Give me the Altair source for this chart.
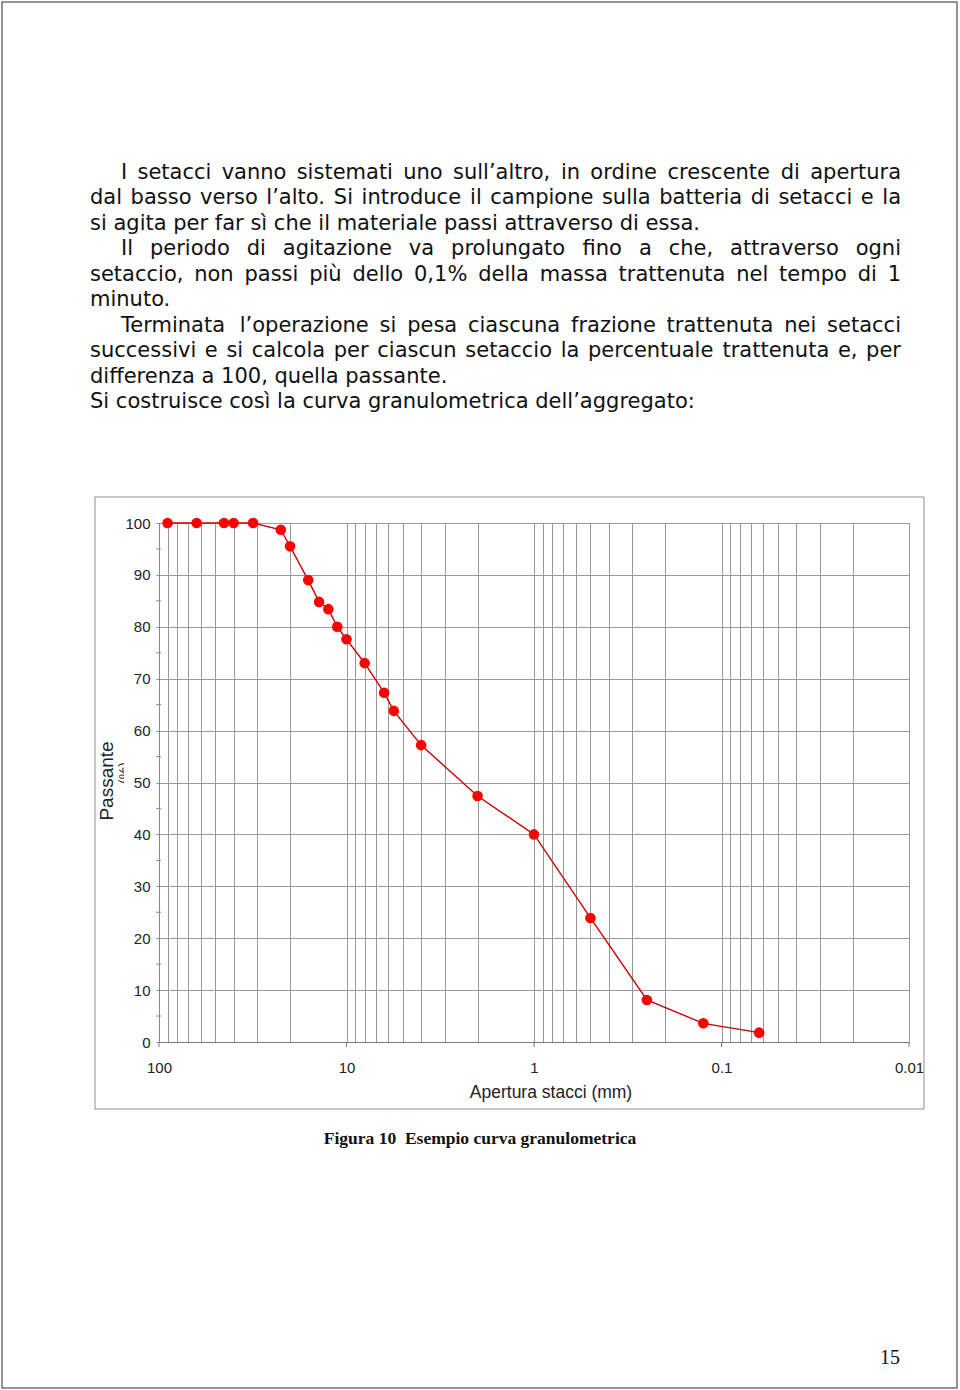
import altair as alt
import pandas as pd

# ---------------- data ----------------
sieve_mm = [90, 63, 45, 40, 31.5, 22.4, 20, 16, 14, 12.5, 11.2, 10, 8, 6.3, 5.6,
            4, 2, 1, 0.5, 0.25, 0.125, 0.063]
passing_pct = [100, 100, 100, 100, 100, 98.7, 95.5, 89.0, 84.8, 83.4, 80.0, 77.6,
               73.0, 67.3, 63.8, 57.2, 47.4, 40.0, 23.9, 8.1, 3.6, 1.8]

decades = [100, 10, 1, 0.1, 0.01]
minor_mult = [1, 2, 3, 4, 5, 6, 7, 8, 9]
y_major = [0, 10, 20, 30, 40, 50, 60, 70, 80, 90, 100]
y_minor = [5, 15, 25, 35, 45, 55, 65, 75, 85, 95]

x_title = "Apertura stacci (mm)"
y_title = "Passante"
y_unit = "(%)"
caption = "Figura 10\u00a0 Esempio curva granulometrica"
page_number = "15"

# (text, indented first line, justified)
paragraph_lines = [
    ("I setacci vanno sistemati uno sull’altro, in ordine crescente di apertura", True, True),
    ("dal basso verso l’alto. Si introduce il campione sulla batteria di setacci e la", False, True),
    ("si agita per far sì che il materiale passi attraverso di essa.", False, False),
    ("Il periodo di agitazione va prolungato fino a che, attraverso ogni", True, True),
    ("setaccio, non passi più dello 0,1% della massa trattenuta nel tempo di 1", False, True),
    ("minuto.", False, False),
    ("Terminata l’operazione si pesa ciascuna frazione trattenuta nei setacci", True, True),
    ("successivi e si calcola per ciascun setaccio la percentuale trattenuta e, per", False, True),
    ("differenza a 100, quella passante.", False, False),
    ("Si costruisce così la curva granulometrica dell’aggregato:", False, False),
]

# ---------------- layout ----------------
PAGE_W, PAGE_H = 960, 1390
PL, PT = 159, 523          # plot origin on the page
W, H = 750, 519            # plot area
TEXT_LEFT, TEXT_INDENT, TEXT_RIGHT = 90, 121, 901
TEXT_SIZE = 21
BASE0, LEAD = 178.8, 25.5

# DejaVu Sans advance widths (units per em = 2048)
DV = {' ': 651, ',': 651, '.': 651, ':': 690, '%': 1946, '’': 651,
      'I': 604, 'S': 1300, 'T': 1251,
      'a': 1255, 'b': 1300, 'c': 1126, 'd': 1300, 'e': 1260, 'f': 721, 'g': 1300,
      'h': 1298, 'i': 569, 'j': 569, 'k': 1186, 'l': 569, 'm': 1995, 'n': 1298,
      'o': 1253, 'p': 1300, 'q': 1300, 'r': 842, 's': 1067, 't': 803, 'u': 1298,
      'v': 1212, 'w': 1675, 'x': 1212, 'y': 1212, 'z': 1075,
      'ì': 569, 'ù': 1298, 'à': 1255, 'è': 1260}
for dch in '0123456789':
    DV[dch] = 1303


def tw(s):
    return sum(DV.get(ch, 1200) for ch in s) * TEXT_SIZE / 2048.0


rows = []
for i, (line, indent, justify) in enumerate(paragraph_lines):
    y = BASE0 + i * LEAD - PT
    left = TEXT_INDENT if indent else TEXT_LEFT
    if justify:
        words = line.split(' ')
        total = sum(tw(w) for w in words)
        gap = (TEXT_RIGHT - left - total) / (len(words) - 1)
        x = left
        for w in words:
            rows.append({'word': w, 'px': x - PL, 'py': y})
            x += tw(w) + gap
    else:
        rows.append({'word': line, 'px': left - PL, 'py': y})
words_df = pd.DataFrame(rows)

df = pd.DataFrame({'mm': sieve_mm, 'pass': passing_pct})
x_vals = [round(m * 10 ** k, 4) for k in [-2, -1, 0, 1] for m in minor_mult] + [100]
one = pd.DataFrame({'k': [0]})

LAB = "Liberation Sans, Arial, sans-serif"
GRID = '#999999'

xs = alt.Scale(type='log', domain=[0.01, 100], reverse=True)
ys = alt.Scale(domain=[0, 100])

x_axis = alt.Axis(values=x_vals, grid=True, gridColor=GRID, gridWidth=1,
                  ticks=False, labelOverlap=False, labelBound=False, labelFlush=False,
                  format='~g',
                  labelExpr="indexof([100, 10, 1, 0.1, 0.01], datum.value) >= 0 ? datum.label : ''",
                  labelFont=LAB, labelFontSize=15, labelColor='#222',
                  labelBaseline='middle', labelPadding=25,
                  domainColor='#777', domainWidth=1, title=None)
y_axis = alt.Axis(values=y_major, grid=True, gridColor=GRID, gridWidth=1,
                  tickSize=3, tickColor='#888', labelPadding=6,
                  labelFont=LAB, labelFontSize=15, labelColor='#222',
                  domainColor='#888', title=None)

page_border = alt.Chart(one).mark_rect(filled=False, stroke='#707070', strokeWidth=1.5).encode(
    x=alt.value(2 - PL), x2=alt.value(957 - PL), y=alt.value(2 - PT), y2=alt.value(1388 - PT))
frame = alt.Chart(one).mark_rect(filled=False, stroke='#8f8f8f', strokeWidth=1).encode(
    x=alt.value(95 - PL), x2=alt.value(924 - PL), y=alt.value(497 - PT), y2=alt.value(1109 - PT))

line = alt.Chart(df).mark_line(color='#cc0000', strokeWidth=1.4).encode(
    x=alt.X('mm:Q', scale=xs, axis=x_axis),
    y=alt.Y('pass:Q', scale=ys, axis=y_axis))
pts = alt.Chart(df).mark_circle(color='#ff0000', opacity=1, size=112).encode(
    x=alt.X('mm:Q', scale=xs), y=alt.Y('pass:Q', scale=ys))

dec_ticks = alt.Chart(pd.DataFrame({'d': decades})).mark_rule(color='#777', strokeWidth=1).encode(
    x=alt.X('d:Q', scale=xs), y=alt.value(H), y2=alt.value(H + 5))
ymin_ticks = alt.Chart(pd.DataFrame({'v': y_minor})).mark_rule(color='#888', strokeWidth=1).encode(
    y=alt.Y('v:Q', scale=ys), x=alt.value(-3), x2=alt.value(2))

xtitle = alt.Chart(one).mark_text(font=LAB, fontSize=17.5, color='#222', align='center',
                                  baseline='middle', text=x_title).encode(
    x=alt.value(551 - PL), y=alt.value(1093 - PT))
ytitle = alt.Chart(one).mark_text(font=LAB, fontSize=19, color='#222',
                                  align='center', baseline='alphabetic', angle=270, text=y_title).encode(
    x=alt.value(113 - PL), y=alt.value(781 - PT))
yunit = alt.Chart(one).mark_text(font=LAB, fontSize=14, color='#333',
                                 align='center', baseline='alphabetic', angle=270, text=y_unit).encode(
    x=alt.value(129 - PL), y=alt.value(773 - PT))
yunit_mask = alt.Chart(one).mark_rect(color='white').encode(
    x=alt.value(124 - PL), x2=alt.value(133 - PL), y=alt.value(755 - PT), y2=alt.value(792 - PT))

cap = alt.Chart(one).mark_text(font='Liberation Serif, Times New Roman, serif', fontSize=17.5,
                               fontWeight='bold', color='#111', align='center', baseline='middle',
                               text=caption).encode(
    x=alt.value(480 - PL), y=alt.value(1139 - PT))
pnum = alt.Chart(one).mark_text(font='Liberation Serif, Times New Roman, serif', fontSize=20,
                                color='#111', align='center', baseline='middle',
                                text=page_number).encode(
    x=alt.value(890 - PL), y=alt.value(1358 - PT))

para = alt.Chart(words_df).mark_text(font='DejaVu Sans', fontSize=TEXT_SIZE, color='#111',
                                     align='left', baseline='alphabetic').encode(
    x=alt.X('px:Q', scale=None, axis=None),
    y=alt.Y('py:Q', scale=None, axis=None),
    text='word:N')

chart = alt.layer(
    page_border, frame, line, pts, dec_ticks, ymin_ticks,
    xtitle, ytitle, yunit, yunit_mask, cap, pnum, para
).properties(
    width=W, height=H,
    padding={'left': PL, 'top': PT, 'right': PAGE_W - PL - W, 'bottom': PAGE_H - PT - H},
    autosize=alt.AutoSizeParams(type='none'),
    background='white'
).configure_view(stroke=None)

chart.save("out.html", embed_options={"renderer": "svg", "actions": False})
